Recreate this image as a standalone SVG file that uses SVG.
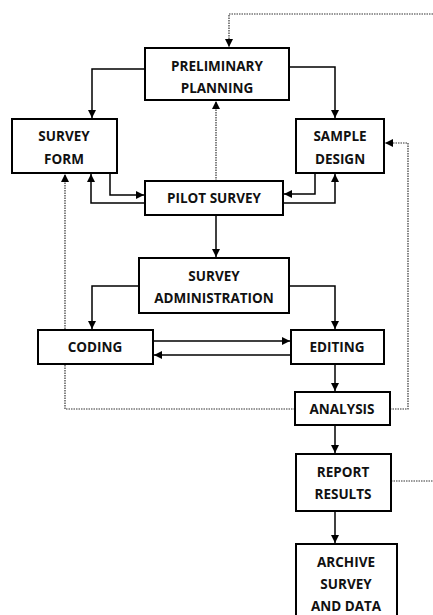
<svg xmlns="http://www.w3.org/2000/svg" width="433" height="615" viewBox="0 0 433 615">
<style>
.box{fill:#fff;stroke:#000;stroke-width:2}
.t{font-family:"Open Sans","Liberation Sans",sans-serif;font-weight:bold;font-size:13.5px;fill:#111;text-anchor:middle}
.c{fill:none;stroke:#000;stroke-width:1.5}
.d{fill:none;stroke:#333;stroke-width:1.2;stroke-dasharray:1.5 1}
</style>
<defs>
<marker id="ah" viewBox="0 0 10 10" refX="10" refY="5" markerWidth="8" markerHeight="8" markerUnits="userSpaceOnUse" orient="auto"><path d="M0,0 L10,5 L0,10 Z" fill="#000"/></marker>
</defs>
<g id="connectors">
<path class="d" d="M433,14 H229 V47" marker-end="url(#ah)"/>
<path class="c" d="M145,69 H92 V118" marker-end="url(#ah)"/>
<path class="c" d="M289,67 H335 V118" marker-end="url(#ah)"/>
<path class="d" d="M216,181 V101" marker-end="url(#ah)"/>
<path class="c" d="M110,173 V195 H144" marker-end="url(#ah)"/>
<path class="c" d="M145,203 H91 V174" marker-end="url(#ah)"/>
<path class="c" d="M315,173 V194 H284" marker-end="url(#ah)"/>
<path class="c" d="M283,203 H335 V174" marker-end="url(#ah)"/>
<path class="c" d="M216,215 V257" marker-end="url(#ah)"/>
<path class="c" d="M139,286 H92 V329" marker-end="url(#ah)"/>
<path class="c" d="M289,286 H335 V329" marker-end="url(#ah)"/>
<path class="c" d="M153,341 H290" marker-end="url(#ah)"/>
<path class="c" d="M291,355 H154" marker-end="url(#ah)"/>
<path class="c" d="M335,364 V391" marker-end="url(#ah)"/>
<path class="c" d="M335,425 V453" marker-end="url(#ah)"/>
<path class="c" d="M335,511 V543" marker-end="url(#ah)"/>
<path class="d" d="M295,409 H65 V174" marker-end="url(#ah)"/>
<path class="d" d="M390,409 H408 V143 H385" marker-end="url(#ah)"/>
<path class="d" d="M391,481 H433"/>
</g>
<g id="preliminary"><rect class="box" x="145" y="48" width="144" height="52"/><text class="t" x="217" y="71">PRELIMINARY</text><text class="t" x="217" y="93">PLANNING</text></g>
<g id="surveyform"><rect class="box" x="12" y="119" width="105" height="54"/><text class="t" x="64" y="141">SURVEY</text><text class="t" x="64" y="164">FORM</text></g>
<g id="sampledesign"><rect class="box" x="296" y="119" width="88" height="54"/><text class="t" x="340" y="141">SAMPLE</text><text class="t" x="340" y="164">DESIGN</text></g>
<g id="pilot"><rect class="box" x="145" y="181" width="138" height="34"/><text class="t" x="214" y="203">PILOT SURVEY</text></g>
<g id="admin"><rect class="box" x="139" y="258" width="150" height="55"/><text class="t" x="214" y="281">SURVEY</text><text class="t" x="214" y="303">ADMINISTRATION</text></g>
<g id="coding"><rect class="box" x="38" y="330" width="115" height="34"/><text class="t" x="95" y="352">CODING</text></g>
<g id="editing"><rect class="box" x="291" y="330" width="93" height="34"/><text class="t" x="337" y="352">EDITING</text></g>
<g id="analysis"><rect class="box" x="295" y="392" width="95" height="33"/><text class="t" x="342" y="414">ANALYSIS</text></g>
<g id="report"><rect class="box" x="296" y="454" width="95" height="57"/><text class="t" x="343" y="477">REPORT</text><text class="t" x="343" y="499">RESULTS</text></g>
<g id="archive"><rect class="box" x="296" y="544" width="101" height="80"/><text class="t" x="346" y="567">ARCHIVE</text><text class="t" x="346" y="589">SURVEY</text><text class="t" x="346" y="611">AND DATA</text></g>
</svg>
